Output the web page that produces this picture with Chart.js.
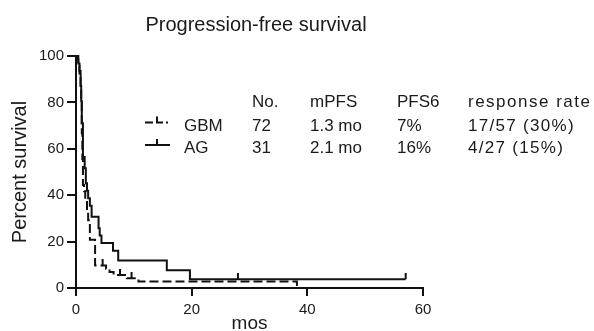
<!DOCTYPE html>
<html>
<head>
<meta charset="utf-8">
<script src="https://cdn.jsdelivr.net/npm/chart.js@4/dist/chart.umd.min.js"></script>
<style>
html,body{margin:0;padding:0;background:#fff;}
#wrap{width:594px;height:331px;position:relative;}
</style>
</head>
<body>
<div id="wrap"><canvas id="c" width="594" height="331"></canvas></div>
<script>
// ---- data ----
const chartTitle = 'Progression-free survival';
const xAxisTitle = 'mos';
const yAxisTitle = 'Percent survival';
const xTicks = [0, 20, 40, 60];
const yTicks = [0, 20, 40, 60, 80, 100];

const gbmTimes    = [0, 0.2, 0.4, 0.6, 0.8, 0.9, 1.0, 1.1, 1.2, 1.4, 1.6, 1.9, 2.1, 2.4, 3.3, 5.2, 5.8, 6.5, 8.8, 10.8, 38.2];
const gbmSurvival = [100, 98.6, 95.8, 91.7, 86.1, 80.6, 66.7, 55.6, 44.4, 41.7, 37.5, 33.3, 29.2, 20.8, 9.7, 8.3, 6.9, 5.6, 4.2, 2.8, 0];

const agTimes    = [0, 0.4, 0.6, 0.8, 0.9, 1.0, 1.2, 1.5, 1.7, 1.9, 2.1, 2.4, 2.7, 3.9, 4.1, 4.4, 6.4, 7.3, 15.7, 19.7, 57];
const agSurvival = [100, 96.8, 93.5, 87.1, 80.6, 71.0, 56.5, 51.6, 45.2, 41.9, 38.7, 35.5, 30.7, 25.8, 22.6, 19.4, 16.1, 11.8, 7.7, 3.8, 3.8];

const gbmCensorTimes    = [4.6, 7.6, 9.6];
const gbmCensorSurvival = [9.7, 5.6, 4.2];
const agCensorTimes     = [28, 57];
const agCensorSurvival  = [3.8, 3.8];

const seriesNames = ['GBM', 'AG'];
const tableHeader = ['No.', 'mPFS', 'PFS6', 'response rate'];
const tableRows = [
  ['72', '1.3 mo', '7%', '17/57 (30%)'],
  ['31', '2.1 mo', '16%', '4/27 (15%)']
];

// ---- styles ----
const INK = '#111111';
const TXT = '#1a1a1a';
const FONT = '"Liberation Sans", Arial, Helvetica, sans-serif';

function censorMark() {
  const c = document.createElement('canvas');
  c.width = 4; c.height = 12;
  const g = c.getContext('2d');
  g.fillStyle = INK;
  g.fillRect(1, 0, 2, 6);
  return c;
}
const tickImg = censorMark();

const toPts = (xs, ys) => xs.map((x, i) => ({x: x, y: ys[i]}));

const annot = {
  id: 'annot',
  afterDraw(chart) {
    const ctx = chart.ctx;
    ctx.save();
    ctx.fillStyle = TXT;
    ctx.textBaseline = 'alphabetic';
    ctx.font = '20px ' + FONT;
    ctx.textAlign = 'center';
    ctx.fillText(chartTitle, 256, 31);

    ctx.font = '17px ' + FONT;
    ctx.textAlign = 'left';
    const colX = [252, 310, 397, 468];
    const colSpacing = ['0px', '0px', '0px', '1.3px'];
    const put = (txt, x, y, sp) => {
      if ('letterSpacing' in ctx) ctx.letterSpacing = sp;
      ctx.fillText(txt, x, y);
      if ('letterSpacing' in ctx) ctx.letterSpacing = '0px';
    };
    tableHeader.forEach((h, i) => put(h, colX[i], 107, i === 3 ? '1.5px' : colSpacing[i]));
    const rowY = [131, 153];
    tableRows.forEach((r, j) => {
      put(seriesNames[j], 184, rowY[j], '0px');
      r.forEach((v, i) => put(v, colX[i], rowY[j], colSpacing[i]));
    });

    // legend symbols
    ctx.strokeStyle = INK;
    ctx.lineWidth = 2;
    let y = rowY[0] - 8.5;
    ctx.beginPath();
    ctx.moveTo(145, y); ctx.lineTo(153, y);
    ctx.moveTo(157, y - 6); ctx.lineTo(157, y); ctx.lineTo(163, y);
    ctx.stroke();
    ctx.fillStyle = INK;
    ctx.fillRect(166, y - 1, 2, 2);
    y = rowY[1] - 8;
    ctx.beginPath();
    ctx.moveTo(145, y); ctx.lineTo(170, y);
    ctx.moveTo(157, y - 6); ctx.lineTo(157, y);
    ctx.stroke();
    ctx.restore();
  }
};

new Chart(document.getElementById('c'), {
  type: 'line',
  data: {
    datasets: [
      {
        label: seriesNames[0],
        data: toPts(gbmTimes, gbmSurvival),
        stepped: 'before',
        borderColor: INK,
        borderWidth: 2,
        borderDash: [9, 4],
        pointRadius: 0,
        fill: false,
        clip: false
      },
      {
        label: seriesNames[1],
        data: toPts(agTimes, agSurvival),
        stepped: 'before',
        borderColor: INK,
        borderWidth: 2,
        pointRadius: 0,
        fill: false,
        clip: false
      },
      {
        label: seriesNames[0] + ' censored',
        data: toPts(gbmCensorTimes, gbmCensorSurvival),
        showLine: false,
        pointStyle: tickImg,
        pointRadius: 3,
        clip: false
      },
      {
        label: seriesNames[1] + ' censored',
        data: toPts(agCensorTimes, agCensorSurvival),
        showLine: false,
        pointStyle: tickImg,
        pointRadius: 3,
        clip: false
      }
    ]
  },
  options: {
    responsive: false,
    animation: false,
    devicePixelRatio: 1,
    layout: {padding: {top: 56, right: 171, bottom: 0, left: 0}},
    plugins: {legend: {display: false}, tooltip: {enabled: false}, title: {display: false}},
    scales: {
      x: {
        type: 'linear',
        min: 0, max: 60,
        afterBuildTicks: s => { s.ticks = xTicks.map(v => ({value: v})); },
        afterFit: s => { s.height = 43; },
        grid: {display: true, drawOnChartArea: false, drawTicks: true, tickLength: 8, color: INK, lineWidth: 2},
        border: {display: true, color: INK, width: 2},
        ticks: {color: TXT, font: {family: FONT, size: 15}, padding: 5, maxRotation: 0},
        title: {display: true, text: xAxisTitle, color: TXT, font: {family: FONT, size: 19}, padding: {top: 0, bottom: -4}}
      },
      y: {
        min: 0, max: 100,
        afterBuildTicks: s => { s.ticks = yTicks.map(v => ({value: v})); },
        afterFit: s => { s.width = 76; },
        grid: {display: true, drawOnChartArea: false, drawTicks: true, tickLength: 9, color: INK, lineWidth: 2},
        border: {display: true, color: INK, width: 2},
        ticks: {color: TXT, font: {family: FONT, size: 15}, padding: 3},
        title: {display: true, text: yAxisTitle, color: TXT, font: {family: FONT, size: 20}, padding: {top: 8, bottom: 0}}
      }
    }
  },
  plugins: [annot]
});
</script>
</body>
</html>
